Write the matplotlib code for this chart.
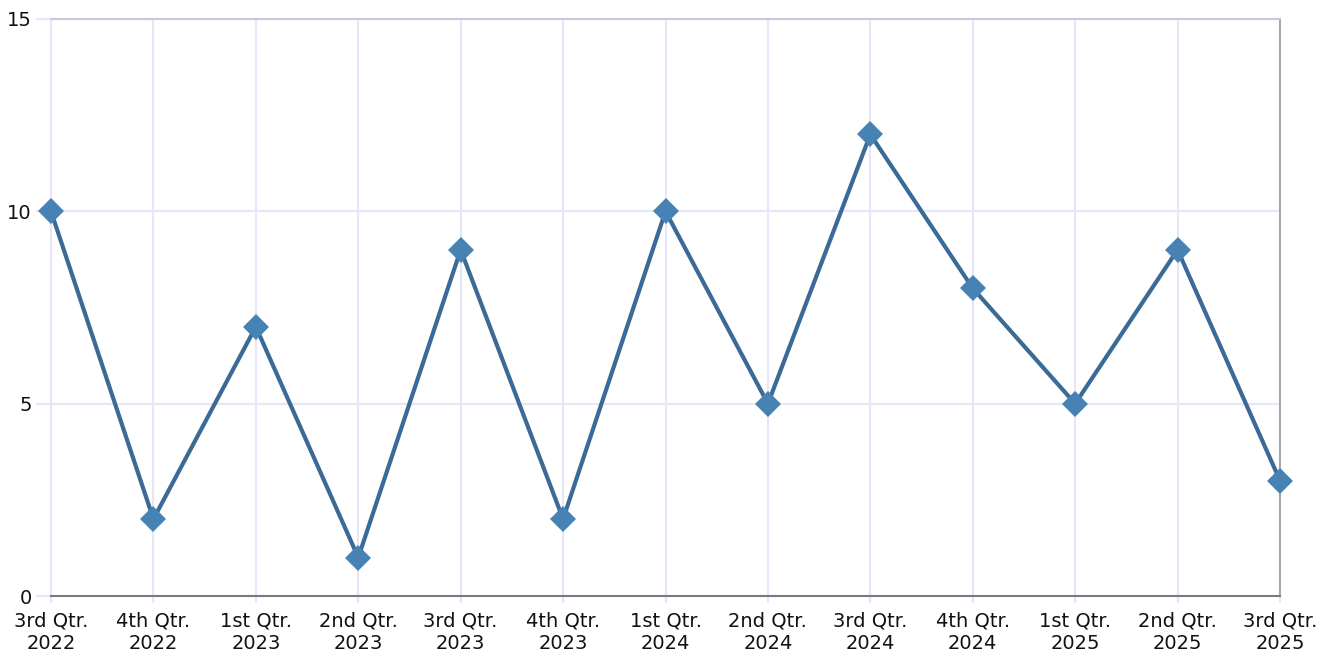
import matplotlib
matplotlib.use("Agg")
import matplotlib.pyplot as plt

categories = ["3rd Qtr.\n2022", "4th Qtr.\n2022", "1st Qtr.\n2023", "2nd Qtr.\n2023",
              "3rd Qtr.\n2023", "4th Qtr.\n2023", "1st Qtr.\n2024", "2nd Qtr.\n2024",
              "3rd Qtr.\n2024", "4th Qtr.\n2024", "1st Qtr.\n2025", "2nd Qtr.\n2025",
              "3rd Qtr.\n2025"]
values = [10, 2, 7, 1, 9, 2, 10, 5, 12, 8, 5, 9, 3]
y_ticks = [0, 5, 10, 15]

plt.rcParams['font.family'] = ['DejaVu Sans']

W, H = 1330, 658
fig = plt.figure(figsize=(W / 100, H / 100), dpi=100)
ax = fig.add_axes([51 / W, (H - 596) / H, (1280 - 51) / W, (596 - 19) / H])

x = list(range(len(categories)))
ax.plot(x, values, color="#3b6a96", linewidth=3, zorder=3, clip_on=False)
ax.plot(x, values, linestyle="none", marker="D", markersize=13,
        color="#4682b4", markeredgewidth=0, zorder=4, clip_on=False)

ax.set_xlim(0, len(categories) - 1)
ax.set_ylim(0, 15)
ax.set_xticks(x)
ax.set_xticklabels(categories, fontsize=14, linespacing=1.25)
ax.set_yticks(y_ticks)
ax.set_yticklabels([str(v) for v in y_ticks], fontsize=14)

grid_c = "#e6e6fa"
ax.grid(True, color=grid_c, linewidth=1.5, zorder=0)
ax.tick_params(axis="y", length=11, width=1.5, color=grid_c, pad=3, labelcolor="#111111")
ax.tick_params(axis="x", length=5, width=1.5, color=grid_c, pad=6, labelcolor="#111111")

ax.spines["left"].set_color(grid_c)
ax.spines["left"].set_linewidth(1.5)
ax.spines["top"].set_color("#c9c8da")
ax.spines["top"].set_linewidth(1.5)
ax.spines["right"].set_color("#a8a8b0")
ax.spines["right"].set_linewidth(1.5)
ax.spines["bottom"].set_color("#7a7a80")
ax.spines["bottom"].set_linewidth(1.5)

fig.savefig("out.png", dpi=100, facecolor="white")
